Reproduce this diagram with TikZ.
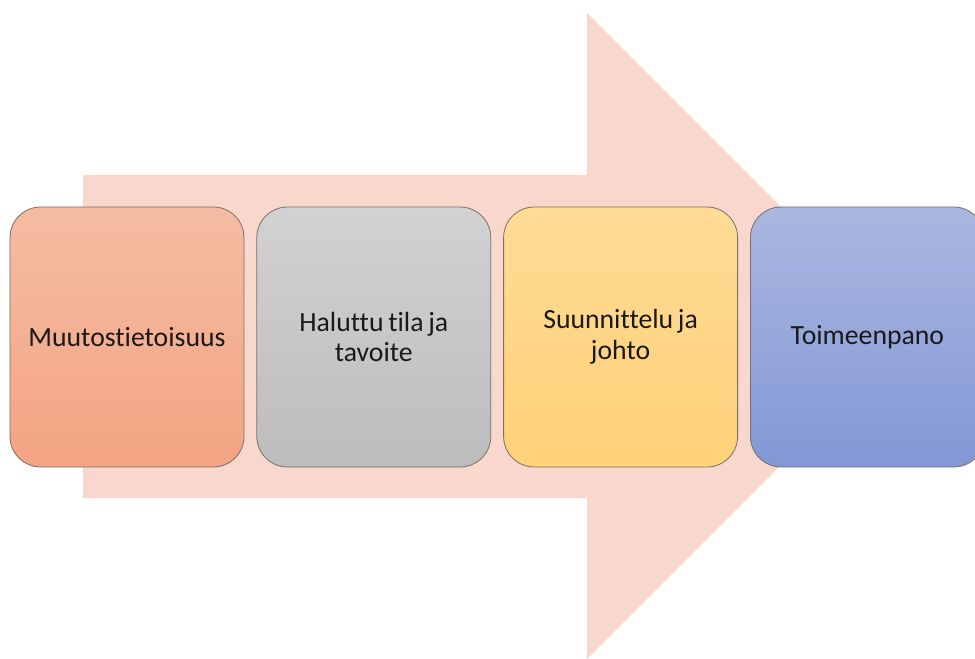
\documentclass[tikz,border=0pt]{standalone}
\usepackage{fontspec}
\setmainfont{Carlito}[Ligatures=NoCommon]
\usetikzlibrary{positioning}

\definecolor{arrowpink}{HTML}{F8D7CD}
\definecolor{edgegray}{HTML}{7A6F6A}

\begin{document}
\begin{tikzpicture}[
  x=0.75pt, y=-0.75pt,
  node distance=9pt,
  stage/.style={draw=edgegray, line width=0.6pt, rounded corners=23pt,
                minimum width=175.5pt, minimum height=195pt, inner sep=2pt,
                text width=165pt, align=center, text=black!90,
                font=\fontsize{20.8}{23.2}\selectfont,
                execute at begin node={\spaceskip=0.17em\relax}},
  sA/.style={stage, top color={rgb,255:red,245;green,188;blue,163}, bottom color={rgb,255:red,243;green,164;blue,131}},
  sB/.style={stage, top color={rgb,255:red,210;green,210;blue,210}, bottom color={rgb,255:red,188;green,188;blue,188}},
  sC/.style={stage, top color={rgb,255:red,255;green,219;blue,150}, bottom color={rgb,255:red,255;green,209;blue,120}},
  sD/.style={stage, top color={rgb,255:red,170;green,183;blue,224}, bottom color={rgb,255:red,130;green,151;blue,214}},
]
\clip (0,0) rectangle (975,659);

%% -- BIG ARROW --------------------------------------------------------------
\fill[arrowpink] (83,175) -- (587,175) -- (587,13) -- (910,336)
  -- (587,659) -- (587,498) -- (83,498) -- cycle;

%% -- STAGES -----------------------------------------------------------------
\node[sA] (aware) at (127,337) {Muutostietoisuus};
\node[sB, right=of aware] (goal) {Haluttu tila ja\\tavoite};
\node[sC, right=of goal] (plan) {Suunnittelu ja\\johto};
\node[sD, right=of plan] (exec) {Toimeenpano};
\end{tikzpicture}
\end{document}
